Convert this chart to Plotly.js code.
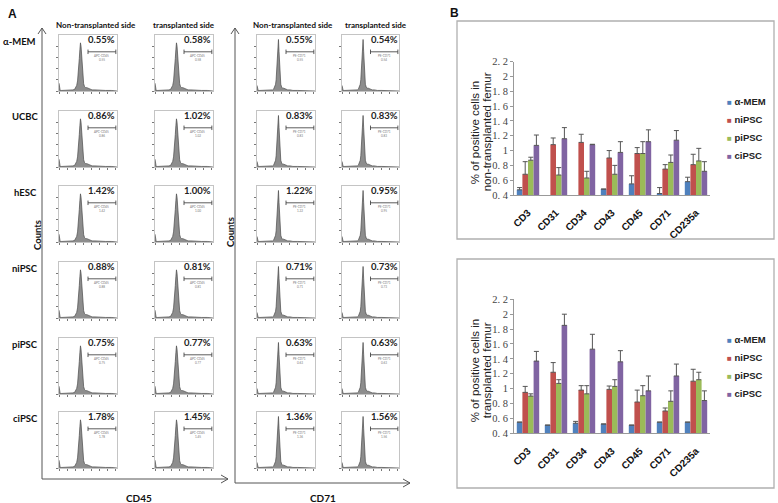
<!DOCTYPE html>
<html><head><meta charset="utf-8">
<script src="https://cdn.plot.ly/plotly-3.0.1.min.js"></script>
<style>body{margin:0;background:#fff}#chart{width:778px;height:503px}</style>
</head><body><div id="chart"></div>
<script>
// ---------- Panel A data ----------
const sampleGroups = ['α-MEM','UCBC','hESC','niPSC','piPSC','ciPSC'];
const sideLabels = ['Non-transplanted side','transplanted side','Non-transplanted side','transplanted side'];
const antigenLabels = ['CD45','CD71'];
const channelLabels = ['APC-CD45','APC-CD45','PE-CD71','PE-CD71'];
const cd45NonTx = ['0.55%','0.86%','1.42%','0.88%','0.75%','1.78%'];
const cd45Tx    = ['0.58%','1.02%','1.00%','0.81%','0.77%','1.45%'];
const cd71NonTx = ['0.55%','0.83%','1.22%','0.71%','0.63%','1.36%'];
const cd71Tx    = ['0.54%','0.83%','0.95%','0.73%','0.63%','1.56%'];
const histBins   = [0,0.8,2,5,10,15,20,24,27,29,30.5,32,33,34,35,36,37,38,39,40,41,42.5,44,46,48,50,53,57,62,70,80,90,100];
const cd45Counts = [14,3,1,1,1,1,1,2,3,6,10,18,28,42,58,74,86,80,60,40,24,13,8,6,6,5,3,2,2,1,1,1,0];
const cd71Counts = [10,2,1,1,1,1,1,1,2,4,7,12,20,34,55,80,92,70,42,22,12,7,5,5,4,3,2,2,1,1,1,1,0];

// ---------- Panel B data ----------
const markers = ['CD3','CD31','CD34','CD43','CD45','CD71','CD235a'];
const groups = ['α-MEM','niPSC','piPSC','ciPSC'];
const yTickVals = [0.4,0.6,0.8,1,1.2,1.4,1.6,1.8,2,2.2];
const yTickText = ['0. 4','0. 6','0. 8','1','1. 2','1. 4','1. 6','1. 8','2','2. 2'];
// non-transplanted femur
const nonMem   = [0.47,0.38,0.38,0.48,0.55,0.42,0.58];
const nonMemE  = [0.03,0,0,0,0.11,0.08,0.06];
const nonNi    = [0.68,1.08,1.11,0.90,0.96,0.75,0.81];
const nonNiE   = [0.17,0.09,0.11,0.10,0.08,0.06,0.14];
const nonPi    = [0.87,0.67,0.63,0.68,0.96,0.84,0.86];
const nonPiE   = [0.04,0.10,0.09,0.12,0.16,0.10,0.17];
const nonCi    = [1.07,1.16,1.08,0.975,1.12,1.14,0.72];
const nonCiE   = [0.14,0.15,0.005,0.145,0.16,0.13,0.13];
// transplanted femur
const txMem    = [0.55,0.51,0.535,0.525,0.51,0.55,0.55];
const txMemE   = [0,0,0.025,0,0,0,0];
const txNi     = [0.95,1.22,0.98,0.99,0.82,0.70,1.10];
const txNiE    = [0.08,0.13,0.06,0.045,0.16,0.04,0.16];
const txPi     = [0.90,1.07,0.93,1.03,0.905,0.83,1.12];
const txPiE    = [0.03,0.05,0.11,0.09,0.135,0.14,0.10];
const txCi     = [1.37,1.85,1.53,1.36,0.97,1.17,0.84];
const txCiE    = [0.13,0.15,0.20,0.15,0.20,0.16,0.13];

// ---------- layout helpers ----------
const W = 778, H = 503;
const px = x => x / W, py = y => 1 - y / H;
const FONT_A = 'Lato, "Liberation Sans", Arial, sans-serif';
const FONT_B = '"Liberation Sans", Arial, sans-serif';
const colX = [[59,117],[155,213],[257,315],[342,399]];
const rowTop = [35,111,186,262,338,412];
const rowH = 56;
const pctCols = [cd45NonTx, cd45Tx, cd71NonTx, cd71Tx];
const countCols = [cd45Counts, cd45Counts, cd71Counts, cd71Counts];

const data = [];
const layout = {
  width: W, height: H, margin: {l:0,r:0,t:0,b:0},
  paper_bgcolor: '#fff', plot_bgcolor: 'rgba(0,0,0,0)',
  showlegend: false, bargap: 0.2, bargroupgap: 0,
  annotations: [], shapes: []
};
const ax = (n, k) => n === 1 ? k : k + n;
const axKey = (n, k) => n === 1 ? k + 'axis' : k + 'axis' + n;
const note = (x, y, text, font, extra) => Object.assign({xref:'paper', yref:'paper', x:px(x), y:py(y), text,
  showarrow:false, xanchor:'center', yanchor:'middle', font}, extra || {});

let n = 0;
for (let c = 0; c < 4; c++) {
  for (let r = 0; r < 6; r++) {
    n++;
    const xa = ax(n,'x'), ya = ax(n,'y');
    data.push({type:'scatter', mode:'lines', x: histBins, y: countCols[c],
      fill:'tozeroy', fillcolor:'#8d8d8d', line:{color:'#4a4a4a', width:0.7},
      xaxis: xa, yaxis: ya, hoverinfo:'skip', showlegend:false});
    layout[axKey(n,'x')] = {domain:[px(colX[c][0]), px(colX[c][1])], anchor: ya, range:[0,100],
      showgrid:false, zeroline:false, showline:true, mirror:true, linecolor:'#b5b5b5', linewidth:0.8,
      ticks:'outside', ticklen:2, tickcolor:'#777', tickvals:[0,14,28,42,56,70,84,98], showticklabels:false};
    layout[axKey(n,'y')] = {domain:[py(rowTop[r]+rowH), py(rowTop[r])], anchor: xa, range:[0,100],
      showgrid:false, zeroline:false, showline:true, mirror:true, linecolor:'#b5b5b5', linewidth:0.8,
      ticks:'outside', ticklen:2, tickcolor:'#777', tickvals:[0,20,40,60,80], showticklabels:false};
    const xd = xa + ' domain', yd = ya + ' domain';
    layout.annotations.push({xref:xd, yref:yd, x:0.74, y:0.78, text:'<b>'+pctCols[c][r]+'</b>', showarrow:false,
      font:{family:FONT_A, size:9.5, color:'#222'}, xanchor:'center', yanchor:'bottom'});
    layout.annotations.push({xref:xd, yref:yd, x:0.74, y:0.62, text:channelLabels[c], showarrow:false,
      font:{family:FONT_A, size:3, color:'#777'}, xanchor:'center', yanchor:'middle'});
    layout.annotations.push({xref:xd, yref:yd, x:0.74, y:0.55, text:pctCols[c][r].replace('%',''), showarrow:false,
      font:{family:FONT_A, size:3, color:'#777'}, xanchor:'center', yanchor:'middle'});
    layout.shapes.push({type:'path', xref:xd, yref:yd,
      path:'M0.5,0.66 L0.5,0.74 M0.5,0.70 L0.98,0.70 M0.98,0.66 L0.98,0.74',
      line:{color:'#333', width:0.8}});
  }
}

// Panel A texts
layout.annotations.push(note(12, 14, '<b>A</b>', {family:FONT_B, size:12, color:'#111'}));
const headX = [96,184,293,376];
sideLabels.forEach((s,i) => layout.annotations.push(note(headX[i], 25, '<b>'+s+'</b>',
  {family:FONT_A, size:8, color:'#111'})));
sampleGroups.forEach((s,i) => layout.annotations.push(note(i === 0 ? 19 : 25, rowTop[i]+6, '<b>'+s+'</b>',
  {family:FONT_A, size:9.5, color:'#111'})));
[[37,235],[230,232]].forEach(p => layout.annotations.push(note(p[0], p[1], '<b>Counts</b>',
  {family:FONT_A, size:9.5, color:'#111'}, {textangle:-90})));
[[139,498],[323,498]].forEach((p,i) => layout.annotations.push(note(p[0], p[1], '<b>'+antigenLabels[i]+'</b>',
  {family:FONT_A, size:10, color:'#111'})));
// Panel A axes arrows
const arrowLine = {color:'#555', width:1};
[[42,479,228],[235,483,410]].forEach(a => {
  const [x0,yb,x1] = a;
  layout.shapes.push({type:'path', xref:'paper', yref:'paper', line:arrowLine,
    path:`M${px(x0)},${py(yb)} L${px(x0)},${py(28)} M${px(x0-4)},${py(34)} L${px(x0)},${py(28)} L${px(x0+4)},${py(34)}`});
  layout.shapes.push({type:'path', xref:'paper', yref:'paper', line:arrowLine,
    path:`M${px(x0)},${py(yb)} L${px(x1)},${py(yb)} M${px(x1-7)},${py(yb-4)} L${px(x1)},${py(yb)} L${px(x1-7)},${py(yb+4)}`});
});

// ---------- Panel B ----------
const colors = ['#4F81BD','#C0504D','#9BBB59','#8064A2'];
const sets = [
  {vals:[nonMem,nonNi,nonPi,nonCi], errs:[nonMemE,nonNiE,nonPiE,nonCiE], top:61.7, bot:195,
   title:['% of positive cells in','non-transplanted femur'], frame:[21,239], legTop:101},
  {vals:[txMem,txNi,txPi,txCi], errs:[txMemE,txNiE,txPiE,txCiE], top:299.3, bot:433.3,
   title:['% of positive cells in','transplanted femur'], frame:[259,488], legTop:339.5}
];
layout.annotations.push(note(455, 13, '<b>B</b>', {family:FONT_B, size:12, color:'#111'}));
sets.forEach((s, k) => {
  n++;
  const xa = ax(n,'x'), ya = ax(n,'y');
  s.vals.forEach((v, g) => data.push({type:'bar', x: markers, y: v, name: groups[g], marker:{color:colors[g]},
    error_y:{type:'data', array: s.errs[g], symmetric:false, arrayminus: v.map(()=>0), color:'#555', thickness:1, width:2.5},
    xaxis: xa, yaxis: ya, showlegend:false}));
  layout[axKey(n,'x')] = {domain:[px(514), px(710)], anchor: ya, type:'category', showgrid:false, zeroline:false,
    showline:true, linecolor:'#999', linewidth:1, tickangle:-45, ticks:'', ticklabelstandoff:7,
    tickfont:{family:FONT_B, size:10, weight:'bold', color:'#111'}};
  layout[axKey(n,'y')] = {domain:[py(s.bot), py(s.top)], anchor: xa, range:[0.4,2.2], showgrid:false, zeroline:false,
    showline:true, linecolor:'#999', linewidth:1, ticks:'outside', ticklen:3, tickcolor:'#999',
    tickvals: yTickVals, ticktext: yTickText,
    tickfont:{family:'"Liberation Serif", "DejaVu Serif", serif', size:10.5, color:'#444'}};
  layout.shapes.push({type:'rect', xref:'paper', yref:'paper', x0:px(457), x1:px(774), y0:py(s.frame[1]), y1:py(s.frame[0]),
    line:{color:'#b0b0b0', width:1.3}});
  const yc = (s.top + s.bot) / 2 + 4;
  s.title.forEach((t, i) => layout.annotations.push(note(475 + i*12, yc, t,
    {family:FONT_B, size:11.5, color:'#222'}, {textangle:-90})));
  groups.forEach((g, i) => layout.annotations.push(note(725, s.legTop + i*18,
    `<span style="color:${colors[i]};font-size:8px">■</span> <b>${g}</b>`,
    {family:FONT_B, size:9.5, color:'#222'}, {xanchor:'left'})));
});

Plotly.newPlot('chart', data, layout, {staticPlot:true, displayModeBar:false});
</script>
</body></html>
